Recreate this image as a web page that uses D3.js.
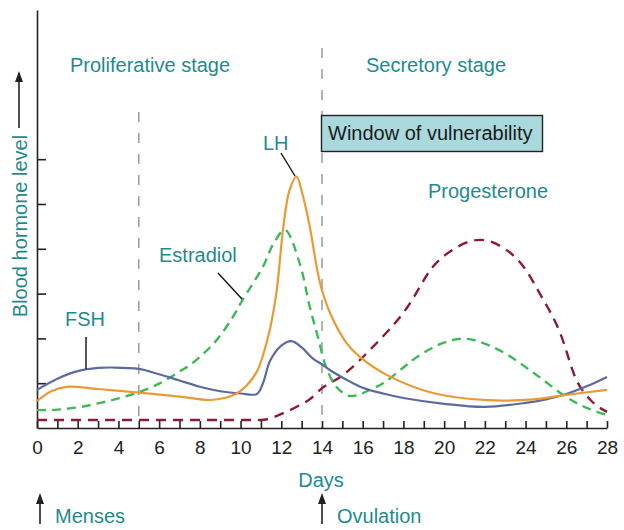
<!DOCTYPE html>
<html><head><meta charset="utf-8">
<script src="https://cdn.jsdelivr.net/npm/d3@7/dist/d3.min.js"></script>
<style>
body{margin:0;background:#fff;}
text{font-family:"Liberation Sans",Arial,Helvetica,sans-serif;}
</style></head>
<body><svg id="c" width="624" height="530"></svg>
<script>
// ---- data ----
const days = d3.range(0, 29);
const dayLabels = [0,2,4,6,8,10,12,14,16,18,20,22,24,26,28];
const levelTicks = [1,2,3,4,5,6];
const fsh = [[0,0.85],[1,1.1],[2,1.27],[3,1.34],[3.7,1.35],[5,1.32],[6,1.2],[7,1.06],[8,0.92],[9,0.82],[10,0.77],[10.8,0.76],[11.1,1.0],[11.45,1.5],[12,1.84],[12.5,1.94],[13,1.8],[13.56,1.55],[14,1.42],[14.4,1.29],[15.4,1.03],[16,0.9],[17,0.77],[18,0.67],[20,0.54],[22,0.47],[24,0.56],[25,0.64],[26,0.76],[27,0.93],[28,1.14]];
const lh = [[0,0.6],[0.7,0.82],[1.46,0.92],[3,0.87],[5,0.79],[7,0.7],[8.5,0.625],[9.3,0.68],[9.8,0.77],[10.3,0.95],[10.8,1.26],[11.1,1.62],[11.44,2.2],[11.77,3.05],[12.1,4.49],[12.4,5.3],[12.75,5.61],[13.05,5.2],[13.4,4.49],[13.9,3.24],[14.4,2.56],[15.2,1.9],[15.87,1.58],[17.2,1.18],[19.45,0.78],[22.1,0.62],[24.4,0.64],[26,0.74],[28,0.85]];
const estradiol = [[0,0.4],[1,0.41],[2,0.46],[3,0.55],[4,0.66],[5,0.8],[6,0.99],[7,1.26],[7.7,1.47],[8.8,1.95],[9.65,2.5],[10.1,2.86],[11.1,3.6],[11.6,4.1],[12.18,4.42],[12.9,3.68],[13.4,2.7],[13.8,2.03],[14.2,1.36],[14.7,0.92],[15.3,0.72],[15.7,0.73],[16.2,0.82],[17,1.0],[18,1.35],[18.65,1.58],[19.95,1.9],[21.1,1.99],[22.7,1.74],[24.4,1.23],[26,0.69],[27,0.45],[28,0.29]];
const progesterone = [[0,0.18],[11,0.18],[12.1,0.33],[12.9,0.51],[13.4,0.64],[14,0.89],[14.9,1.14],[16.5,1.81],[18.2,2.7],[19.45,3.6],[20.5,4.0],[21.76,4.2],[22.8,4.05],[23.9,3.6],[24.7,3.0],[25.7,2.12],[26.5,1.07],[27.2,0.62],[28,0.36]];
const stageDays = [5, 14];

// ---- layout ----
const svg = d3.select("#c");
const teal = "#1f8a8d";
const x = d3.scaleLinear().domain([0,28]).range([37,607]);
const y = d3.scaleLinear().domain([0,9.33]).range([428,10]);

// stage dashed lines
svg.append("line").attr("x1",x(stageDays[0])).attr("x2",x(stageDays[0])).attr("y1",112).attr("y2",428)
  .attr("stroke","#9a9a9a").attr("stroke-width",1.5).attr("stroke-dasharray","10,11");
svg.append("line").attr("x1",x(stageDays[1])).attr("x2",x(stageDays[1])).attr("y1",48).attr("y2",428)
  .attr("stroke","#9a9a9a").attr("stroke-width",1.5).attr("stroke-dasharray","10,11");

// axes
const xAxis = d3.axisBottom(x).tickValues(days).tickSizeInner(-7).tickSizeOuter(0).tickPadding(13)
  .tickFormat(d => dayLabels.includes(d) ? String(d) : "");
const gx = svg.append("g").attr("transform","translate(0,428)").call(xAxis);
gx.selectAll("path,line").attr("stroke","#222").attr("stroke-width",1.6);
gx.selectAll("text").attr("font-size",19).attr("fill","#222").style("font-family","Liberation Sans, Arial, sans-serif");

const yAxis = d3.axisRight(y).tickValues(levelTicks).tickSizeInner(9).tickSizeOuter(0).tickFormat("");
const gy = svg.append("g").attr("transform","translate(37,0)").call(yAxis);
gy.selectAll("path,line").attr("stroke","#222").attr("stroke-width",1.6);

// curves
const smooth = d3.line().x(d=>x(d[0])).y(d=>y(d[1])).curve(d3.curveCatmullRom.alpha(0.5));
const mono = d3.line().x(d=>x(d[0])).y(d=>y(d[1])).curve(d3.curveMonotoneX);
svg.append("path").attr("d",mono(progesterone)).attr("fill","none").attr("stroke","#8e1c30").attr("stroke-width",2.4).attr("stroke-dasharray","10,7");
svg.append("path").attr("d",smooth(estradiol)).attr("fill","none").attr("stroke","#3dba57").attr("stroke-width",2.4).attr("stroke-dasharray","9,6");
svg.append("path").attr("d",smooth(fsh)).attr("fill","none").attr("stroke","#5d6aa0").attr("stroke-width",2.2);
svg.append("path").attr("d",smooth(lh)).attr("fill","none").attr("stroke","#e89a35").attr("stroke-width",2.2);

// window box
svg.append("rect").attr("x",321.5).attr("y",115.5).attr("width",221).attr("height",36)
  .attr("fill","#a9d9dd").attr("stroke","#222").attr("stroke-width",1.4);
svg.append("text").attr("x",328).attr("y",140).attr("font-size",20).attr("fill","#1a1a1a").text("Window of vulnerability");

// labels
function label(t,xx,yy,col){ svg.append("text").attr("x",xx).attr("y",yy).attr("font-size",20).attr("fill",col||teal).text(t); }
label("Proliferative stage",70,72);
label("Secretory stage",366,72);
label("Progesterone",428,198);
label("LH",263,150);
label("Estradiol",159,262);
label("FSH",65,326);
svg.append("text").attr("x",321).attr("y",487).attr("text-anchor","middle").attr("font-size",20).attr("fill",teal).text("Days");
label("Menses",55,523);
label("Ovulation",337,523);

// leader lines
const lead = [[281,153,295,176],[218,273,242,299],[86,337,86,369]];
lead.forEach(l=>svg.append("line").attr("x1",l[0]).attr("y1",l[1]).attr("x2",l[2]).attr("y2",l[3]).attr("stroke","#111").attr("stroke-width",1.4));

// y label and arrow
svg.append("text").attr("transform","translate(27,226) rotate(-90)").attr("text-anchor","middle")
  .attr("font-size",20).attr("fill",teal).text("Blood hormone level");
function arrowUp(ax, y1, y2){
  svg.append("line").attr("x1",ax).attr("x2",ax).attr("y1",y1).attr("y2",y2+8).attr("stroke","#222").attr("stroke-width",1.6);
  svg.append("path").attr("d",`M${ax},${y2} L${ax-4},${y2+11} L${ax+4},${y2+11} Z`).attr("fill","#222");
}
arrowUp(19,128,71);
arrowUp(40,524,493);
arrowUp(322,524,493);
</script></body></html>
